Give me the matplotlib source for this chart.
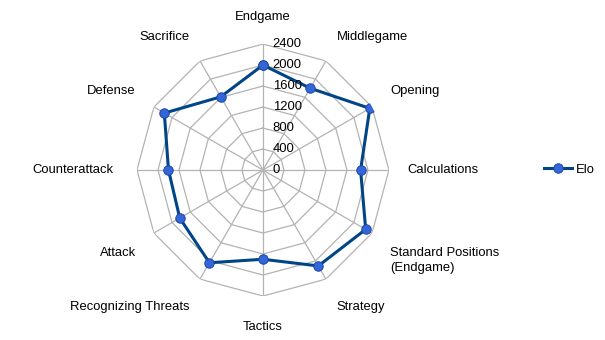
import numpy as np
import matplotlib
matplotlib.use("Agg")
import matplotlib.pyplot as plt
from matplotlib.lines import Line2D

categories = ["Endgame", "Middlegame", "Opening", "Calculations",
              "Standard Positions\n(Endgame)", "Strategy", "Tactics",
              "Recognizing Threats", "Attack", "Counterattack", "Defense", "Sacrifice"]
elo = [2000, 1800, 2350, 1860, 2260, 2110, 1700, 2040, 1830, 1800, 2170, 1610]
ticks = [0, 400, 800, 1200, 1600, 2000, 2400]

plt.rcParams['font.family'] = ['Liberation Sans', 'DejaVu Sans']
FS = 9.4

fig = plt.figure(figsize=(6.05, 3.4), dpi=100)
ax = fig.add_axes([0.2264, 0.1294, 0.4165, 0.741], projection='polar')
ax.set_theta_offset(np.pi / 2)
ax.set_theta_direction(-1)
ax.set_ylim(0, 2400)
ax.grid(False)
ax.spines['polar'].set_visible(False)
ax.set_xticks([])
ax.set_yticks([])
ax.patch.set_alpha(0)

n = len(categories)
theta = np.arange(n) * 2 * np.pi / n
theta_c = np.append(theta, theta[0])
gc = '#b3b3b3'
for t in ticks[1:]:
    ax.plot(theta_c, [t] * (n + 1), color=gc, lw=0.9, zorder=1)
for th in theta:
    ax.plot([th, th], [0, ticks[-1]], color=gc, lw=0.9, zorder=1)

line_kw = dict(color='#004586', lw=2.2, marker='o', markersize=6.8,
               markerfacecolor='#3366d6', markeredgecolor='#1f45a8',
               markeredgewidth=0.7)
vals_c = elo + [elo[0]]
ax.plot(theta_c, vals_c, zorder=3, **line_kw)

# radial tick labels
for t in ticks:
    ax.annotate(str(t), xy=(0, t), xytext=(7, 0), textcoords='offset points',
                ha='left', va='center', fontsize=FS, color='black', zorder=4)

# category labels
R = 2800
for th, lab in zip(theta, categories):
    deg = np.degrees(th) % 360
    if deg < 1 or abs(deg - 180) < 1:
        ha = 'center'
    elif deg < 180:
        ha = 'left'
    else:
        ha = 'right'
    dx, dy = 0, 0
    if abs(deg - 90) < 1 or abs(deg - 270) < 1:
        va = 'center'
        dx = -1.8
    elif deg < 90 or deg > 270:
        va = 'bottom'
    else:
        va = 'top'
        dy = -2.6
    ax.annotate(lab, xy=(th, R), xytext=(dx, dy), textcoords='offset points',
                ha=ha, va=va, fontsize=FS, color='black', linespacing=1.3,
                annotation_clip=False)

# legend
h = Line2D([0], [0], **line_kw)
fig.legend([h], ['Elo'], loc='center left', bbox_to_anchor=(0.880, 0.5),
           frameon=False, fontsize=FS, handlelength=2.1, handletextpad=0.35)

fig.savefig('out.png', dpi=100)
